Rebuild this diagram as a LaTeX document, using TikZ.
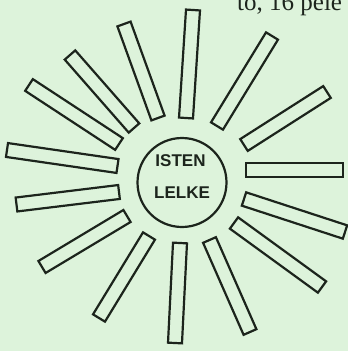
\documentclass[tikz,border=0pt]{standalone}
\usepackage{fontspec}
\setmainfont{Liberation Serif}
\newfontfamily\lblfont{Liberation Sans}
\usetikzlibrary{calc}
\definecolor{bgpaper}{RGB}{221,243,219}
\definecolor{inkline}{RGB}{28,36,28}
\tikzset{
  raybox/.style={draw=inkline, line width=2.2pt, line join=miter},
  hubcircle/.style={circle, draw=inkline, line width=2.2pt, minimum size=89pt, inner sep=0pt},
  hubtext/.style={inner sep=0pt, text=inkline, font=\lblfont\bfseries\fontsize{17}{20}\selectfont},
  cuttext/.style={inner sep=0pt, anchor=base west, text=inkline, font=\fontsize{25}{29}\selectfont}
}
\begin{document}
\begin{tikzpicture}[x=1pt,y=-1pt]
\clip (0,0) rectangle (348,351);
\fill[bgpaper] (0,0) rectangle (348,351);
\useasboundingbox (0,0) rectangle (348,351);
\node[cuttext] (top) at (237,10.5) {to, 16 pele};
\node[hubcircle] (hub) at (182,182.5) {};
\node[hubtext] (l1) at (180.5,161) {ISTEN};
\node[hubtext] (l2) at (182,193) {LELKE};
\foreach \n/\ix/\iy/\ox/\oy in {
  1/186/118/193/10,
  2/158/118/124/24,
  3/134/128/70/55,
  4/119/144/29/85,
  5/117.5/166/7/150,
  6/119/192/16.5/204.5,
  7/127/216/42/267,
  8/149/236/99/318,
  9/180/243/175/343,
  10/209.5/240/250/332,
  11/234/223/322/287,
  12/244/199/345/232,
  13/246/170/343/170,
  14/244/145/327/92,
  15/217/126/272/36}{
  \coordinate (in\n) at (\ix,\iy);
  \coordinate (out\n) at (\ox,\oy);
  \draw[raybox] ($(in\n)!7pt!90:(out\n)$) -- ($(out\n)!7pt!-90:(in\n)$)
     -- ($(out\n)!7pt!90:(in\n)$) -- ($(in\n)!7pt!-90:(out\n)$) -- cycle;
}
\end{tikzpicture}
\end{document}
